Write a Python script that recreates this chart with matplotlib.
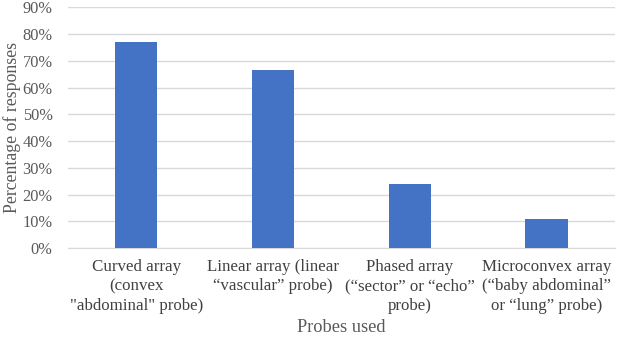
import matplotlib.pyplot as plt
from matplotlib.ticker import PercentFormatter

plt.rcParams['font.family'] = ['Liberation Serif', 'DejaVu Serif']

categories = [
    "Curved array\n(convex\n\"abdominal\" probe)",
    "Linear array (linear\n\u201cvascular\u201d probe)",
    "Phased array\n(\u201csector\u201d or \u201cecho\u201d\nprobe)",
    "Microconvex array\n(\u201cbaby abdominal\u201d\nor \u201clung\u201d probe)",
]
percent = [77.2, 66.7, 24.1, 10.9]

fig = plt.figure(figsize=(6.17, 3.40), dpi=100)
ax = fig.add_axes([0.110, 0.2706, 0.8865, 0.7074])

x = range(len(categories))
ax.bar(x, percent, width=0.31, color="#4472C4", zorder=3)

ax.set_ylim(0, 90)
ax.set_xlim(-0.5, 3.5)
ax.set_yticks(range(0, 91, 10))
ax.yaxis.set_major_formatter(PercentFormatter(decimals=0))
ax.set_xticks(list(x))
ax.set_xticklabels(categories, fontsize=12.2, color="#404040", linespacing=1.28)
ax.tick_params(axis="y", labelsize=11.8, labelcolor="#595959", length=0, pad=11)
ax.tick_params(axis="x", length=0, pad=8)
ax.grid(axis="y", color="#D9D9D9", linewidth=1, zorder=0)
for s in ["top", "right", "left"]:
    ax.spines[s].set_visible(False)
ax.spines["bottom"].set_color("#D9D9D9")

ax.set_xlabel("Probes used", fontsize=13.2, color="#595959", labelpad=4)
ax.set_ylabel("Percentage of responses", fontsize=12.8, color="#595959", labelpad=1)

fig.savefig("out.png", dpi=100)
